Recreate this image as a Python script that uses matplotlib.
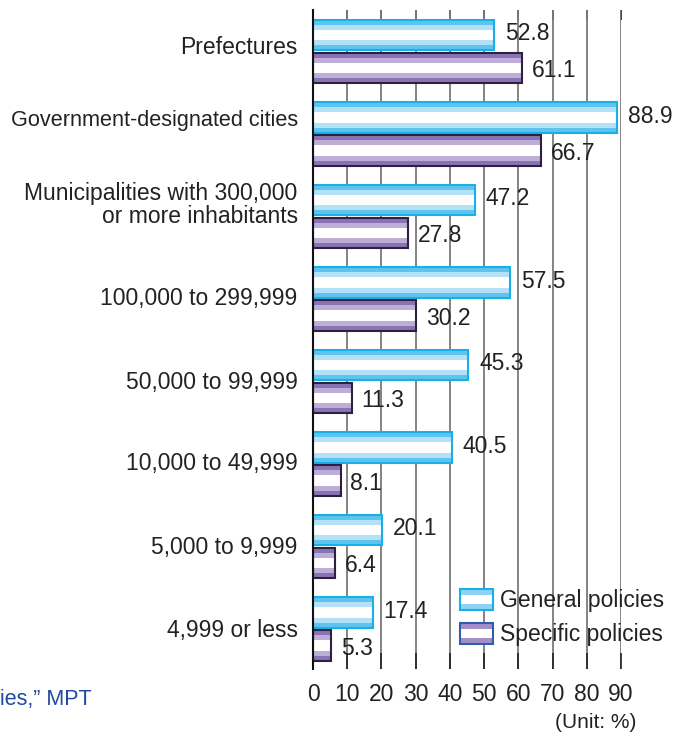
import matplotlib
matplotlib.use("Agg")
import matplotlib.pyplot as plt
import matplotlib.transforms as mtransforms
from matplotlib.patches import Rectangle
from matplotlib.legend_handler import HandlerBase

plt.rcParams['font.family'] = ['Liberation Sans', 'DejaVu Sans']

categories = [
    "Prefectures",
    "Government-designated cities",
    "Municipalities with 300,000\nor more inhabitants",
    "100,000 to 299,999",
    "50,000 to 99,999",
    "10,000 to 49,999",
    "5,000 to 9,999",
    "4,999 or less",
]
general = [52.8, 88.9, 47.2, 57.5, 45.3, 40.5, 20.1, 17.4]
specific = [61.1, 66.7, 27.8, 30.2, 11.3, 8.1, 6.4, 5.3]
xticks = [0, 10, 20, 30, 40, 50, 60, 70, 80, 90]
series_names = ["General policies", "Specific policies"]

# per-label vertical nudges (points, positive = up) and font sizes for the category names
label_nudge = [3.2, 9.4, 8.3, 0.4, -0.4, 0.0, -1.0, -1.4]
label_size = [16.5, 15.6, 16.5, 16.5, 16.5, 16.5, 16.5, 16.5]

# band layout of the striped bars (fractions of the bar height, top to bottom)
BANDS = [(0.00, 0.16, 0), (0.16, 0.33, 1), (0.33, 0.67, 2), (0.67, 0.84, 1), (0.84, 1.00, 0)]
STYLE = {
    "general": dict(colors=["#5ec4ee", "#b3e1f7", "#ffffff"], edge="#19b0e8"),
    "specific": dict(colors=["#8a73b5", "#bcaed6", "#ffffff"], edge="#2e2040"),
}
TEXT = "#222222"
FS = 16.5

fig = plt.figure(figsize=(6.8, 7.36), dpi=100)
ax = fig.add_axes([313 / 680, 1 - 669 / 736, 308 / 680, 659 / 736])

BAR_H = 0.364
OFFSET = 0.2


def striped_barh(y, value, style):
    top = y - BAR_H / 2
    for a, b, ci in BANDS:
        ax.barh(top + BAR_H * (a + b) / 2, value, height=BAR_H * (b - a),
                color=style["colors"][ci], linewidth=0, zorder=3)
    ax.barh(y, value, height=BAR_H, fill=False, edgecolor=style["edge"],
            linewidth=1.5, zorder=4)


for i, (g, s) in enumerate(zip(general, specific)):
    striped_barh(i - OFFSET, g, STYLE["general"])
    striped_barh(i + OFFSET, s, STYLE["specific"])
    ax.annotate(f"{g:.1f}", (g, i - OFFSET), xytext=(8, 1), textcoords="offset points",
                ha="left", va="center", fontsize=FS, color=TEXT, zorder=5)
    ax.annotate(f"{s:.1f}", (s, i + OFFSET), xytext=(7, -2), textcoords="offset points",
                ha="left", va="center", fontsize=FS, color=TEXT, zorder=5)

ax.set_xlim(0, 90)
ax.set_ylim(7.485, -0.503)

# category names, right-aligned left of the axis
ax.set_yticks([])
label_trans = mtransforms.blended_transform_factory(ax.transAxes, ax.transData)
for i, (name, nudge, size) in enumerate(zip(categories, label_nudge, label_size)):
    tr = label_trans + mtransforms.ScaledTranslation(-11 / 72, nudge / 72, fig.dpi_scale_trans)
    ax.text(0, i, name, transform=tr, ha="right", va="center", multialignment="right",
            fontsize=size, color=TEXT, linespacing=1.0)

ax.set_xticks(xticks)
ax.set_xticklabels([str(t) for t in xticks], fontsize=FS, color=TEXT)
ax.tick_params(axis="x", direction="in", length=11.5, width=1.2, color="#222222", pad=10)
ax.grid(axis="x", color="#7a7a7a", linewidth=1.3, zorder=0)
ax.set_axisbelow(True)

top = ax.secondary_xaxis("top")
top.set_xticks(xticks)
top.tick_params(direction="in", length=7, width=1.2, color="#222222", labeltop=False)
top.spines["top"].set_visible(False)

for side in ("top", "right", "bottom"):
    ax.spines[side].set_visible(False)
ax.spines["left"].set_linewidth(1.5)
ax.spines["left"].set_color("#111111")
ax.spines["left"].set_zorder(6)


class Striped:
    def __init__(self, band, edge):
        self.band = band
        self.edge = edge


class StripedHandler(HandlerBase):
    def create_artists(self, legend, orig_handle, xdescent, ydescent, width, height,
                       fontsize, trans):
        x0, y0 = -xdescent, -ydescent
        arts = []
        for a, b, c in [(0.0, 0.27, orig_handle.band), (0.27, 0.73, "#ffffff"),
                        (0.73, 1.0, orig_handle.band)]:
            arts.append(Rectangle((x0, y0 + height * a), width, height * (b - a),
                                  facecolor=c, edgecolor="none", transform=trans))
        arts.append(Rectangle((x0, y0), width, height, facecolor="none",
                              edgecolor=orig_handle.edge, linewidth=1.5, transform=trans))
        return arts


handles = [Striped("#8fd3f4", "#19b0e8"), Striped("#a38ec8", "#2f5fa8")]
leg = fig.legend(handles, series_names, handler_map={Striped: StripedHandler()},
                 loc="upper left", bbox_to_anchor=(460 / 680, 1 - 589 / 736),
                 frameon=False, fontsize=FS, handlelength=1.45, handleheight=1.0,
                 handletextpad=0.28, labelspacing=0.48, borderaxespad=0, borderpad=0)
for t in leg.get_texts():
    t.set_color(TEXT)

fig.text(0 / 680, 1 - 700 / 736, "ies,\u201d MPT", fontsize=15.5, color="#1f4aa0",
         ha="left", va="center")
fig.text(636 / 680, 1 - 722 / 736, "(Unit: %)", fontsize=15, color=TEXT,
         ha="right", va="center")

fig.savefig("out.png", dpi=100)
